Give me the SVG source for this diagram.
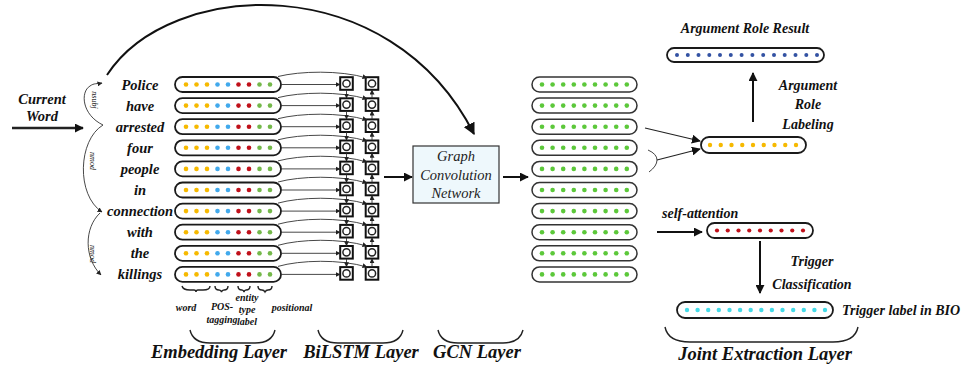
<svg xmlns="http://www.w3.org/2000/svg" xmlns:xlink="http://www.w3.org/1999/xlink" width="969" height="372" viewBox="0 0 969 372">
<style>
.cap{fill:#fff;stroke:#1a1a1a;stroke-width:1.8}
.cap2{fill:#fff;stroke:#333;stroke-width:1.5}
.w{font-family:"Liberation Serif",serif;font-style:italic;font-weight:bold;font-size:14.5px;text-anchor:middle;fill:#111}
.lab{font-family:"Liberation Serif",serif;font-style:italic;font-weight:bold;font-size:14px;text-anchor:middle;fill:#111}
.big{font-family:"Liberation Serif",serif;font-style:italic;font-weight:bold;font-size:18.5px;text-anchor:middle;fill:#111}
.sm{font-family:"Liberation Serif",serif;font-style:italic;font-weight:bold;font-size:10px;text-anchor:middle;fill:#111}
.dep{font-family:"Liberation Serif",serif;font-style:italic;font-size:8px;text-anchor:middle;fill:#111}
.gcn{font-family:"Liberation Serif",serif;font-style:italic;font-size:14.5px;text-anchor:middle;fill:#222}
.thin{fill:none;stroke:#333;stroke-width:0.9}
.thick{fill:none;stroke:#111;stroke-width:2}
.brace{fill:none;stroke:#222;stroke-width:1.4}
.y{fill:#f6b900}.b{fill:#41a9ec}.r{fill:#c0101a}.g{fill:#74b84a}.gg{fill:#5cc83a}.db{fill:#3352a3}.c{fill:#45dbe8}
</style>
<defs>
<marker id="sa" viewBox="0 0 10 10" refX="9" refY="5" markerWidth="5" markerHeight="5" orient="auto" markerUnits="userSpaceOnUse"><path d="M0,0 L10,5 L0,10 Z" fill="#222"/></marker>
<marker id="ma" viewBox="0 0 10 10" refX="9" refY="5" markerWidth="9" markerHeight="9" orient="auto" markerUnits="userSpaceOnUse"><path d="M0,0 L10,5 L0,10 Z" fill="#111"/></marker>
<marker id="la" viewBox="0 0 10 10" refX="9" refY="5" markerWidth="12" markerHeight="12" orient="auto" markerUnits="userSpaceOnUse"><path d="M0,0 L10,5 L0,10 Z" fill="#111"/></marker>
<g id="embRow">
<rect class="cap" x="175" y="-7.5" width="106" height="15" rx="7.5"/>
<circle class="y" cx="186" cy="0" r="2.3"/><circle class="y" cx="196.5" cy="0" r="2.3"/><circle class="y" cx="207" cy="0" r="2.3"/>
<circle class="b" cx="217.5" cy="0" r="2.3"/><circle class="b" cx="228" cy="0" r="2.3"/>
<circle class="r" cx="238.5" cy="0" r="2.3"/><circle class="r" cx="249" cy="0" r="2.3"/>
<circle class="g" cx="259.5" cy="0" r="2.3"/><circle class="g" cx="270" cy="0" r="2.3"/>
</g>
<g id="gcnRow">
<rect class="cap2" x="532" y="-7.5" width="105" height="15" rx="7.5"/>
<circle class="gg" cx="542" cy="0" r="2.3"/><circle class="gg" cx="552.6" cy="0" r="2.3"/><circle class="gg" cx="563.2" cy="0" r="2.3"/>
<circle class="gg" cx="573.8" cy="0" r="2.3"/><circle class="gg" cx="584.4" cy="0" r="2.3"/><circle class="gg" cx="595" cy="0" r="2.3"/>
<circle class="gg" cx="605.6" cy="0" r="2.3"/><circle class="gg" cx="616.2" cy="0" r="2.3"/><circle class="gg" cx="626.8" cy="0" r="2.3"/>
</g>
<g id="cell">
<rect x="-6.3" y="-6.3" width="12.6" height="12.6" fill="#fff" stroke="#111" stroke-width="2"/>
<circle cx="0" cy="0" r="3.6" fill="#fff" stroke="#222" stroke-width="1.5"/>
</g>
</defs>
<rect width="969" height="372" fill="#fff"/>

<!-- Current word input -->
<g id="current-word">
<text class="w" x="42" y="104">Current</text>
<text class="w" x="42" y="121">Word</text>
</g>

<!-- words -->
<g id="words">
<text class="w" x="140" y="89.5">Police</text>
<text class="w" x="140" y="110.6">have</text>
<text class="w" x="140" y="131.7">arrested</text>
<text class="w" x="140" y="152.8">four</text>
<text class="w" x="140" y="173.9">people</text>
<text class="w" x="140" y="195">in</text>
<text class="w" x="140" y="216.1">connection</text>
<text class="w" x="140" y="237.2">with</text>
<text class="w" x="140" y="258.3">the</text>
<text class="w" x="140" y="279.4">killings</text>
</g>

<!-- embedding rows -->
<g id="emb-0" transform="translate(0,84.5)"><use href="#embRow"/></g>
<g id="emb-1" transform="translate(0,105.6)"><use href="#embRow"/></g>
<g id="emb-2" transform="translate(0,126.7)"><use href="#embRow"/></g>
<g id="emb-3" transform="translate(0,147.8)"><use href="#embRow"/></g>
<g id="emb-4" transform="translate(0,168.9)"><use href="#embRow"/></g>
<g id="emb-5" transform="translate(0,190)"><use href="#embRow"/></g>
<g id="emb-6" transform="translate(0,211.1)"><use href="#embRow"/></g>
<g id="emb-7" transform="translate(0,232.2)"><use href="#embRow"/></g>
<g id="emb-8" transform="translate(0,253.3)"><use href="#embRow"/></g>
<g id="emb-9" transform="translate(0,274.4)"><use href="#embRow"/></g>

<!-- BiLSTM cells -->
<g id="bilstm-fwd">
<use href="#cell" x="346.5" y="83.5"/><use href="#cell" x="346.5" y="104.6"/><use href="#cell" x="346.5" y="125.7"/><use href="#cell" x="346.5" y="146.8"/><use href="#cell" x="346.5" y="167.9"/>
<use href="#cell" x="346.5" y="189"/><use href="#cell" x="346.5" y="210.1"/><use href="#cell" x="346.5" y="231.2"/><use href="#cell" x="346.5" y="252.3"/><use href="#cell" x="346.5" y="273.4"/>
</g>
<g id="bilstm-bwd">
<use href="#cell" x="372" y="83.5"/><use href="#cell" x="372" y="104.6"/><use href="#cell" x="372" y="125.7"/><use href="#cell" x="372" y="146.8"/><use href="#cell" x="372" y="167.9"/>
<use href="#cell" x="372" y="189"/><use href="#cell" x="372" y="210.1"/><use href="#cell" x="372" y="231.2"/><use href="#cell" x="372" y="252.3"/><use href="#cell" x="372" y="273.4"/>
</g>

<!-- GCN box -->
<g id="gcn">
<rect x="413" y="146" width="86" height="57" fill="#eef8fc" stroke="#333" stroke-width="1.2"/>
<text class="gcn" x="456" y="161">Graph</text>
<text class="gcn" x="456" y="180">Convolution</text>
<text class="gcn" x="456" y="198">Network</text>
</g>

<!-- GCN outputs -->
<g id="gcn-0" transform="translate(0,84.5)"><use href="#gcnRow"/></g>
<g id="gcn-1" transform="translate(0,105.6)"><use href="#gcnRow"/></g>
<g id="gcn-2" transform="translate(0,126.7)"><use href="#gcnRow"/></g>
<g id="gcn-3" transform="translate(0,147.8)"><use href="#gcnRow"/></g>
<g id="gcn-4" transform="translate(0,168.9)"><use href="#gcnRow"/></g>
<g id="gcn-5" transform="translate(0,190)"><use href="#gcnRow"/></g>
<g id="gcn-6" transform="translate(0,211.1)"><use href="#gcnRow"/></g>
<g id="gcn-7" transform="translate(0,232.2)"><use href="#gcnRow"/></g>
<g id="gcn-8" transform="translate(0,253.3)"><use href="#gcnRow"/></g>
<g id="gcn-9" transform="translate(0,274.4)"><use href="#gcnRow"/></g>

<!-- joint extraction vectors -->
<g id="arg-result">
<text class="lab" x="745" y="33" font-size="13.5">Argument Role Result</text>
<rect class="cap" x="667" y="48" width="157" height="14" rx="7"/>
<g class="db">
<circle cx="677" cy="55" r="2"/><circle cx="687.8" cy="55" r="2"/><circle cx="698.5" cy="55" r="2"/><circle cx="709.3" cy="55" r="2"/><circle cx="720" cy="55" r="2"/><circle cx="730.8" cy="55" r="2"/><circle cx="741.6" cy="55" r="2"/>
<circle cx="752.4" cy="55" r="2"/><circle cx="763.2" cy="55" r="2"/><circle cx="774" cy="55" r="2"/><circle cx="784.7" cy="55" r="2"/><circle cx="795.5" cy="55" r="2"/><circle cx="806.3" cy="55" r="2"/><circle cx="817" cy="55" r="2"/>
</g>
</g>
<g id="arg-vec">
<rect class="cap" x="701" y="137" width="105" height="16" rx="8"/>
<g class="y">
<circle cx="710" cy="145" r="2.2"/><circle cx="720.75" cy="145" r="2.2"/><circle cx="731.5" cy="145" r="2.2"/><circle cx="742.25" cy="145" r="2.2"/><circle cx="753" cy="145" r="2.2"/>
<circle cx="763.75" cy="145" r="2.2"/><circle cx="774.5" cy="145" r="2.2"/><circle cx="785.25" cy="145" r="2.2"/><circle cx="796" cy="145" r="2.2"/>
</g>
</g>
<g id="trigger-vec">
<rect class="cap" x="707" y="223" width="106" height="15" rx="7.5"/>
<g class="r">
<circle cx="717" cy="230.5" r="2.1"/><circle cx="727.75" cy="230.5" r="2.1"/><circle cx="738.5" cy="230.5" r="2.1"/><circle cx="749.25" cy="230.5" r="2.1"/><circle cx="760" cy="230.5" r="2.1"/>
<circle cx="770.75" cy="230.5" r="2.1"/><circle cx="781.5" cy="230.5" r="2.1"/><circle cx="792.25" cy="230.5" r="2.1"/><circle cx="803" cy="230.5" r="2.1"/>
</g>
</g>
<g id="bio-vec">
<rect class="cap" x="677" y="302" width="156" height="16" rx="8"/>
<g class="c">
<circle cx="687" cy="310" r="2.2"/><circle cx="697.6" cy="310" r="2.2"/><circle cx="708.2" cy="310" r="2.2"/><circle cx="718.8" cy="310" r="2.2"/><circle cx="729.5" cy="310" r="2.2"/><circle cx="740.1" cy="310" r="2.2"/><circle cx="750.7" cy="310" r="2.2"/>
<circle cx="761.3" cy="310" r="2.2"/><circle cx="771.9" cy="310" r="2.2"/><circle cx="782.5" cy="310" r="2.2"/><circle cx="793.2" cy="310" r="2.2"/><circle cx="803.8" cy="310" r="2.2"/><circle cx="814.4" cy="310" r="2.2"/><circle cx="825" cy="310" r="2.2"/>
</g>
<text class="lab" x="842" y="315" text-anchor="start" style="text-anchor:start">Trigger label in BIO</text>
</g>

<!-- labels -->
<g id="labels">
<text class="lab" x="808" y="90">Argument</text>
<text class="lab" x="808" y="109">Role</text>
<text class="lab" x="808" y="129">Labeling</text>
<text class="lab" x="662" y="218" style="text-anchor:start" font-size="13.5">self-attention</text>
<text class="lab" x="812" y="266">Trigger</text>
<text class="lab" x="812" y="289">Classification</text>
<text class="sm" x="186" y="311">word</text>
<text class="sm" x="222" y="310">POS-</text>
<text class="sm" x="222" y="323">tagging</text>
<text class="sm" x="247" y="301">entity</text>
<text class="sm" x="247" y="313">type</text>
<text class="sm" x="247" y="325">label</text>
<text class="sm" x="292" y="311">positional</text>
<text class="big" x="219" y="358">Embedding Layer</text>
<text class="big" x="361" y="358">BiLSTM Layer</text>
<text class="big" x="477" y="358">GCN Layer</text>
<text class="big" x="765" y="360">Joint Extraction Layer</text>
<text class="dep" transform="translate(92,100) rotate(90)">nsubj</text>
<text class="dep" transform="translate(90,161) rotate(90)">nmod</text>
<text class="dep" transform="translate(90,254) rotate(90)">nmod</text>
</g>

<!-- braces -->
<g id="braces">
<path class="brace" d="M182,286 Q183,290 190,290 L194,290 Q196,290 196,292 Q196,290 198,290 L203,290 Q210,290 210,286"/>
<path class="brace" d="M215,286 Q215,290 219,290 Q221,290 221.5,292 Q222,290 224,290 Q228,290 228,286"/>
<path class="brace" d="M238,286 Q238,290 242,290 Q243.5,290 244,292 Q244.5,290 246,290 Q250,290 250,286"/>
<path class="brace" d="M258,286 Q258,290 262,290 Q264,290 265,292 Q266,290 268,290 Q272,290 272,286"/>
<path class="brace" d="M190,330 Q193,343 210,343 L255,343 Q272,343 275,330"/>
<path class="brace" d="M318,330 Q321,343 338,343 L383,343 Q400,343 403,330"/>
<path class="brace" d="M438,330 Q441,343 458,343 L503,343 Q520,343 523,330"/>
<path class="brace" d="M665,327 Q668,342 690,342 L833,342 Q855,342 858,327"/>
</g>

<!-- connectors -->
<g id="connectors">
<line x1="12" y1="128" x2="83" y2="128" stroke="#222" stroke-width="2.6" marker-end="url(#ma)"/>
<path class="thin" d="M103,125 C82,115 80,92 90,86 C94,83 97,84 102,83" marker-end="url(#sa)"/>
<path class="thin" d="M103,125 C78,140 76,195 102,212" marker-end="url(#sa)"/>
<path class="thin" d="M100,213 C84,228 84,258 101,275" marker-end="url(#sa)"/>
<path class="thick" d="M107,75 C170,-22 390,-32 474,134" marker-end="url(#la)"/>

<g id="emb-to-lstm">
<line class="thin" x1="281" y1="84.5" x2="340" y2="84.5" marker-end="url(#sa)"/>
<line class="thin" x1="281" y1="105.6" x2="340" y2="105.6" marker-end="url(#sa)"/>
<line class="thin" x1="281" y1="126.7" x2="340" y2="126.7" marker-end="url(#sa)"/>
<line class="thin" x1="281" y1="147.8" x2="340" y2="147.8" marker-end="url(#sa)"/>
<line class="thin" x1="281" y1="168.9" x2="340" y2="168.9" marker-end="url(#sa)"/>
<line class="thin" x1="281" y1="190" x2="340" y2="190" marker-end="url(#sa)"/>
<line class="thin" x1="281" y1="211.1" x2="340" y2="211.1" marker-end="url(#sa)"/>
<line class="thin" x1="281" y1="232.2" x2="340" y2="232.2" marker-end="url(#sa)"/>
<line class="thin" x1="281" y1="253.3" x2="340" y2="253.3" marker-end="url(#sa)"/>
<line class="thin" x1="281" y1="274.4" x2="340" y2="274.4" marker-end="url(#sa)"/>
<path class="thin" d="M278,76.5 C300,71 340,70 367,78" marker-end="url(#sa)"/>
<path class="thin" d="M278,97.6 C300,92 340,91 367,99" marker-end="url(#sa)"/>
<path class="thin" d="M278,118.7 C300,113 340,112 367,120" marker-end="url(#sa)"/>
<path class="thin" d="M278,139.8 C300,134 340,133 367,141" marker-end="url(#sa)"/>
<path class="thin" d="M278,160.9 C300,155 340,154 367,162" marker-end="url(#sa)"/>
<path class="thin" d="M278,182 C300,176 340,175 367,183" marker-end="url(#sa)"/>
<path class="thin" d="M278,203.1 C300,197 340,196 367,204" marker-end="url(#sa)"/>
<path class="thin" d="M278,224.2 C300,218 340,217 367,225" marker-end="url(#sa)"/>
<path class="thin" d="M278,245.3 C300,239 340,238 367,246" marker-end="url(#sa)"/>
<path class="thin" d="M278,266.4 C300,260 340,259 367,267" marker-end="url(#sa)"/>
</g>
<g id="lstm-links">
<line class="thin" x1="346.5" y1="90" x2="346.5" y2="98" marker-end="url(#sa)"/>
<line class="thin" x1="346.5" y1="111.1" x2="346.5" y2="119.1" marker-end="url(#sa)"/>
<line class="thin" x1="346.5" y1="132.2" x2="346.5" y2="140.2" marker-end="url(#sa)"/>
<line class="thin" x1="346.5" y1="153.3" x2="346.5" y2="161.3" marker-end="url(#sa)"/>
<line class="thin" x1="346.5" y1="174.4" x2="346.5" y2="182.4" marker-end="url(#sa)"/>
<line class="thin" x1="346.5" y1="195.5" x2="346.5" y2="203.5" marker-end="url(#sa)"/>
<line class="thin" x1="346.5" y1="216.6" x2="346.5" y2="224.6" marker-end="url(#sa)"/>
<line class="thin" x1="346.5" y1="237.7" x2="346.5" y2="245.7" marker-end="url(#sa)"/>
<line class="thin" x1="346.5" y1="258.8" x2="346.5" y2="266.8" marker-end="url(#sa)"/>
<line class="thin" x1="372" y1="98" x2="372" y2="90" marker-end="url(#sa)"/>
<line class="thin" x1="372" y1="119.1" x2="372" y2="111.1" marker-end="url(#sa)"/>
<line class="thin" x1="372" y1="140.2" x2="372" y2="132.2" marker-end="url(#sa)"/>
<line class="thin" x1="372" y1="161.3" x2="372" y2="153.3" marker-end="url(#sa)"/>
<line class="thin" x1="372" y1="182.4" x2="372" y2="174.4" marker-end="url(#sa)"/>
<line class="thin" x1="372" y1="203.5" x2="372" y2="195.5" marker-end="url(#sa)"/>
<line class="thin" x1="372" y1="224.6" x2="372" y2="216.6" marker-end="url(#sa)"/>
<line class="thin" x1="372" y1="245.7" x2="372" y2="237.7" marker-end="url(#sa)"/>
<line class="thin" x1="372" y1="266.8" x2="372" y2="258.8" marker-end="url(#sa)"/>
</g>
<line class="thick" x1="384" y1="177" x2="412" y2="177" marker-end="url(#ma)"/>
<line class="thick" x1="503" y1="177" x2="528" y2="177" marker-end="url(#ma)"/>
<line x1="645" y1="128" x2="700" y2="141" stroke="#222" stroke-width="1.1" marker-end="url(#ma)"/>
<path d="M648,150 Q657,154 657,160 Q657,166 649,172" fill="none" stroke="#444" stroke-width="1"/>
<line x1="657" y1="160" x2="700" y2="149" stroke="#222" stroke-width="1.1" marker-end="url(#ma)"/>
<line class="thick" x1="753" y1="122" x2="753" y2="73" marker-end="url(#ma)"/>
<line class="thick" x1="657" y1="232" x2="702" y2="232" marker-end="url(#ma)"/>
<line class="thick" x1="760" y1="241" x2="760" y2="293" marker-end="url(#ma)"/>
</g>
</svg>
